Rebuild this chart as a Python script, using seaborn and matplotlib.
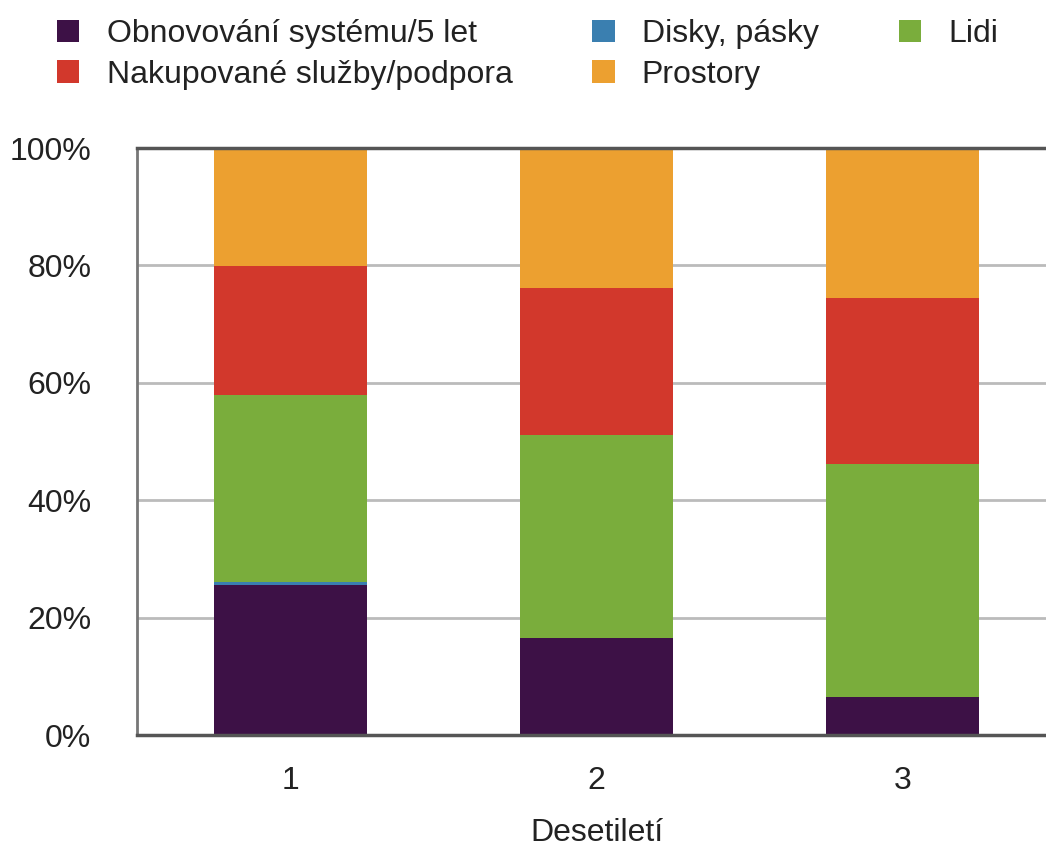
import pandas as pd
import matplotlib.pyplot as plt
import seaborn as sns
from matplotlib.patches import Patch
from matplotlib.ticker import PercentFormatter

# Decades and cost categories (shares in %)
decades = [1, 2, 3]
categories = ["Obnovování systému/5 let", "Disky, pásky", "Lidi",
              "Nakupované služby/podpora", "Prostory"]
obnova = [25.6, 16.5, 6.5]
disky = [0.5, 0.0, 0.0]
lidi = [31.8, 34.6, 39.7]
sluzby = [22.0, 25.0, 28.2]
prostory = [20.1, 23.9, 25.6]
colors = ["#3d1146", "#3a7fb0", "#7aad3c", "#d2382c", "#eca030"]

# Long-form table for seaborn
rows = []
for cat, vals in zip(categories, [obnova, disky, lidi, sluzby, prostory]):
    for d, v in zip(decades, vals):
        rows.append({"Desetiletí": d, "kategorie": cat, "podíl": v})
df = pd.DataFrame(rows)

sns.set_style("white")
plt.rcParams["font.family"] = ["Liberation Sans", "DejaVu Sans"]
fs = 23

fig = plt.figure(figsize=(10.46, 8.46), dpi=100)
ax = fig.add_axes([137 / 1046, 1 - 735 / 846, (1056 - 137) / 1046, 587 / 846])

# seaborn stacks the first hue level on top, so pass the order reversed
sns.histplot(data=df, x="Desetiletí", hue="kategorie", weights="podíl",
             hue_order=categories[::-1], palette=dict(zip(categories, colors)),
             multiple="stack", discrete=True, shrink=0.5, alpha=1,
             linewidth=0, legend=False, ax=ax, zorder=3)

ax.set_xlim(0.5, 3.5)
ax.set_ylim(0, 100)
ax.set_xticks(decades)
ax.set_yticks(range(0, 101, 20))
ax.yaxis.set_major_formatter(PercentFormatter(decimals=0))
ax.tick_params(axis="both", labelsize=fs, length=0, colors="#222222")
ax.tick_params(axis="x", pad=22)
ax.tick_params(axis="y", pad=33)
ax.set_xlabel("Desetiletí", fontsize=fs, color="#222222", labelpad=16)
ax.set_ylabel("")

ax.grid(axis="y", color="#bbbbbb", linewidth=2, zorder=0)
ax.grid(axis="x", visible=False)
for side in ["top", "bottom"]:
    ax.spines[side].set_color("#555555")
    ax.spines[side].set_linewidth(2.5)
ax.spines["left"].set_color("#777777")
ax.spines["left"].set_linewidth(2)
ax.spines["right"].set_visible(False)
for s in ax.spines.values():
    s.set_zorder(4)

handles = [Patch(facecolor=c, edgecolor="none") for c in colors]
order = [0, 3, 1, 4, 2]
fig.legend([handles[i] for i in order], [categories[i] for i in order],
           ncol=3, loc="upper left", bbox_to_anchor=(57 / 1046, 1 - 19 / 846),
           borderpad=0, borderaxespad=0, frameon=False, fontsize=fs,
           handlelength=0.7, handleheight=0.7, handletextpad=0.85,
           columnspacing=2.5, labelspacing=0.34, labelcolor="#222222")

plt.savefig("out.png", dpi=100)
